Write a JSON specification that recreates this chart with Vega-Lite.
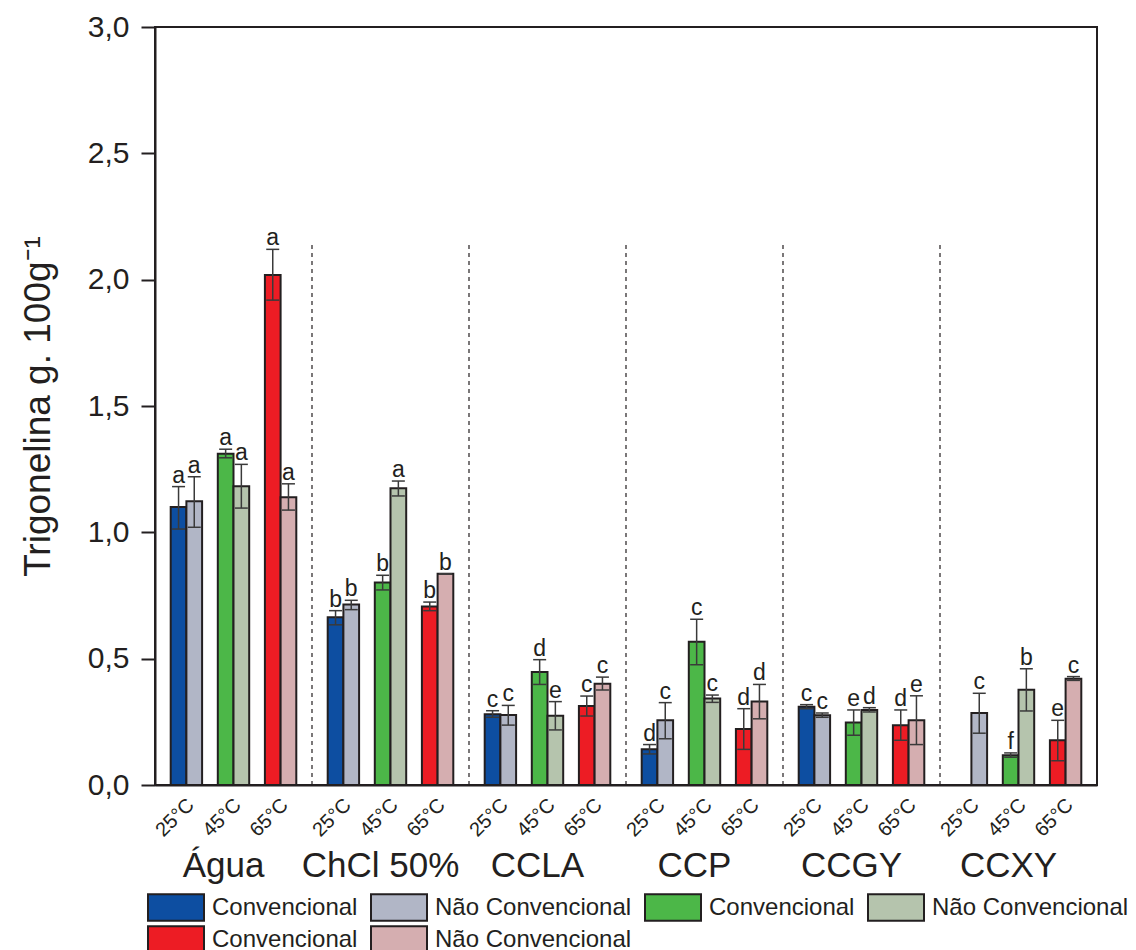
{
  "$schema": "https://vega.github.io/schema/vega-lite/v6.json",
  "width": 942,
  "height": 758,
  "autosize": {"type": "none"},
  "padding": {"left": 155, "top": 27, "right": 39, "bottom": 165},
  "background": "white",
  "config": {
    "font": "Liberation Sans",
    "view": {"stroke": "#231f20", "strokeWidth": 2},
    "axis": {"grid": false}
  },
  "datasets": {
    "bars": [
      {"solvent": "Água", "temp": "25°C", "type": "Convencional", "key": "25°C Convencional", "value": 1.10, "low": 1.013, "high": 1.181, "letter": "a"},
      {"solvent": "Água", "temp": "25°C", "type": "Não Convencional", "key": "25°C Não Convencional", "value": 1.123, "low": 1.02, "high": 1.22, "letter": "a"},
      {"solvent": "Água", "temp": "45°C", "type": "Convencional", "key": "45°C Convencional", "value": 1.311, "low": 1.295, "high": 1.329, "letter": "a"},
      {"solvent": "Água", "temp": "45°C", "type": "Não Convencional", "key": "45°C Não Convencional", "value": 1.182, "low": 1.096, "high": 1.269, "letter": "a"},
      {"solvent": "Água", "temp": "65°C", "type": "Convencional", "key": "65°C Convencional", "value": 2.018, "low": 1.919, "high": 2.12, "letter": "a"},
      {"solvent": "Água", "temp": "65°C", "type": "Não Convencional", "key": "65°C Não Convencional", "value": 1.139, "low": 1.088, "high": 1.192, "letter": "a"},
      {"solvent": "ChCl 50%", "temp": "25°C", "type": "Convencional", "key": "25°C Convencional", "value": 0.664, "low": 0.634, "high": 0.69, "letter": "b"},
      {"solvent": "ChCl 50%", "temp": "25°C", "type": "Não Convencional", "key": "25°C Não Convencional", "value": 0.714, "low": 0.694, "high": 0.731, "letter": "b"},
      {"solvent": "ChCl 50%", "temp": "45°C", "type": "Convencional", "key": "45°C Convencional", "value": 0.801, "low": 0.772, "high": 0.83, "letter": "b"},
      {"solvent": "ChCl 50%", "temp": "45°C", "type": "Não Convencional", "key": "45°C Não Convencional", "value": 1.174, "low": 1.144, "high": 1.203, "letter": "a"},
      {"solvent": "ChCl 50%", "temp": "65°C", "type": "Convencional", "key": "65°C Convencional", "value": 0.706, "low": 0.69, "high": 0.724, "letter": "b"},
      {"solvent": "ChCl 50%", "temp": "65°C", "type": "Não Convencional", "key": "65°C Não Convencional", "value": 0.836, "low": 0.836, "high": 0.836, "letter": "b"},
      {"solvent": "CCLA", "temp": "25°C", "type": "Convencional", "key": "25°C Convencional", "value": 0.28, "low": 0.268, "high": 0.294, "letter": "c"},
      {"solvent": "CCLA", "temp": "25°C", "type": "Não Convencional", "key": "25°C Não Convencional", "value": 0.277, "low": 0.237, "high": 0.315, "letter": "c"},
      {"solvent": "CCLA", "temp": "45°C", "type": "Convencional", "key": "45°C Convencional", "value": 0.447, "low": 0.398, "high": 0.496, "letter": "d"},
      {"solvent": "CCLA", "temp": "45°C", "type": "Não Convencional", "key": "45°C Não Convencional", "value": 0.274, "low": 0.218, "high": 0.33, "letter": "e"},
      {"solvent": "CCLA", "temp": "65°C", "type": "Convencional", "key": "65°C Convencional", "value": 0.313, "low": 0.273, "high": 0.352, "letter": "c"},
      {"solvent": "CCLA", "temp": "65°C", "type": "Não Convencional", "key": "65°C Não Convencional", "value": 0.401, "low": 0.376, "high": 0.427, "letter": "c"},
      {"solvent": "CCP", "temp": "25°C", "type": "Convencional", "key": "25°C Convencional", "value": 0.141, "low": 0.123, "high": 0.16, "letter": "d"},
      {"solvent": "CCP", "temp": "25°C", "type": "Não Convencional", "key": "25°C Não Convencional", "value": 0.256, "low": 0.183, "high": 0.326, "letter": "c"},
      {"solvent": "CCP", "temp": "45°C", "type": "Convencional", "key": "45°C Convencional", "value": 0.567, "low": 0.476, "high": 0.656, "letter": "c"},
      {"solvent": "CCP", "temp": "45°C", "type": "Não Convencional", "key": "45°C Não Convencional", "value": 0.342, "low": 0.327, "high": 0.356, "letter": "c"},
      {"solvent": "CCP", "temp": "65°C", "type": "Convencional", "key": "65°C Convencional", "value": 0.222, "low": 0.141, "high": 0.302, "letter": "d"},
      {"solvent": "CCP", "temp": "65°C", "type": "Não Convencional", "key": "65°C Não Convencional", "value": 0.33, "low": 0.262, "high": 0.398, "letter": "d"},
      {"solvent": "CCGY", "temp": "25°C", "type": "Convencional", "key": "25°C Convencional", "value": 0.31, "low": 0.302, "high": 0.318, "letter": "c"},
      {"solvent": "CCGY", "temp": "25°C", "type": "Não Convencional", "key": "25°C Não Convencional", "value": 0.276, "low": 0.268, "high": 0.285, "letter": "c"},
      {"solvent": "CCGY", "temp": "45°C", "type": "Convencional", "key": "45°C Convencional", "value": 0.247, "low": 0.197, "high": 0.297, "letter": "e"},
      {"solvent": "CCGY", "temp": "45°C", "type": "Não Convencional", "key": "45°C Não Convencional", "value": 0.297, "low": 0.289, "high": 0.306, "letter": "d"},
      {"solvent": "CCGY", "temp": "65°C", "type": "Convencional", "key": "65°C Convencional", "value": 0.236, "low": 0.177, "high": 0.297, "letter": "d"},
      {"solvent": "CCGY", "temp": "65°C", "type": "Não Convencional", "key": "65°C Não Convencional", "value": 0.256, "low": 0.16, "high": 0.353, "letter": "e"},
      {"solvent": "CCXY", "temp": "25°C", "type": "Não Convencional", "key": "25°C Não Convencional", "value": 0.285, "low": 0.205, "high": 0.363, "letter": "c"},
      {"solvent": "CCXY", "temp": "45°C", "type": "Convencional", "key": "45°C Convencional", "value": 0.118, "low": 0.11, "high": 0.127, "letter": "f"},
      {"solvent": "CCXY", "temp": "45°C", "type": "Não Convencional", "key": "45°C Não Convencional", "value": 0.377, "low": 0.293, "high": 0.46, "letter": "b"},
      {"solvent": "CCXY", "temp": "65°C", "type": "Convencional", "key": "65°C Convencional", "value": 0.177, "low": 0.096, "high": 0.256, "letter": "e"},
      {"solvent": "CCXY", "temp": "65°C", "type": "Não Convencional", "key": "65°C Não Convencional", "value": 0.421, "low": 0.414, "high": 0.429, "letter": "c"}
    ],
    "seps": [
      {"solvent": "ChCl 50%"},
      {"solvent": "CCLA"},
      {"solvent": "CCP"},
      {"solvent": "CCGY"},
      {"solvent": "CCXY"}
    ]
  },
  "layer": [
    {
      "data": {"name": "seps"},
      "mark": {"type": "rule", "strokeDash": [4, 4], "strokeWidth": 1.2, "color": "#231f20"},
      "encoding": {
        "x": {"field": "solvent", "type": "nominal", "bandPosition": 0, "title": null,
              "scale": {"domain": ["Água", "ChCl 50%", "CCLA", "CCP", "CCGY", "CCXY"], "paddingInner": 0, "paddingOuter": 0}},
        "y": {"datum": 0, "type": "quantitative"},
        "y2": {"datum": 2.15}
      }
    },
    {
      "data": {"name": "bars"},
      "mark": {"type": "bar", "stroke": "#231f20", "strokeWidth": 2},
      "encoding": {
        "x": {"field": "solvent", "type": "nominal", "title": null,
              "scale": {"domain": ["Água", "ChCl 50%", "CCLA", "CCP", "CCGY", "CCXY"], "paddingInner": 0, "paddingOuter": 0},
              "axis": {"title": null, "ticks": false, "labelAngle": 0, "labelAlign": "center", "labelBaseline": "top", "labelFontSize": 35, "labelPadding": 63, "labelOffset": -10,
                       "labelColor": "#231f20", "domainColor": "#231f20", "domainWidth": 2}},
        "xOffset": {"field": "key", "type": "nominal",
                    "scale": {"domain": ["25°C Convencional", "25°C Não Convencional", "gap1", "45°C Convencional", "45°C Não Convencional", "gap2", "65°C Convencional", "65°C Não Convencional"], "paddingInner": 0, "paddingOuter": 1}},
        "y": {"field": "value", "type": "quantitative",
              "scale": {"domain": [0, 3], "nice": false},
              "axis": {"title": "Trigonelina g. 100g⁻¹", "titleFontSize": 37, "titleFontWeight": "normal", "titleColor": "#231f20", "titlePadding": 30,
                       "values": [0, 0.5, 1, 1.5, 2, 2.5, 3], "labelExpr": "replace(format(datum.value, '.1f'), '.', ',')",
                       "labelFontSize": 30, "labelColor": "#231f20", "labelPadding": 12, "labelFlush": false, "labelOverlap": false,
                       "tickSize": 14, "tickWidth": 2, "tickColor": "#231f20", "domainColor": "#231f20", "domainWidth": 2}},
        "color": {"field": "key", "type": "nominal",
                  "scale": {"domain": ["25°C Convencional", "25°C Não Convencional", "45°C Convencional", "45°C Não Convencional", "65°C Convencional", "65°C Não Convencional"],
                            "range": ["#0d4ea1", "#b1b6c6", "#4cb748", "#b5c4ad", "#ed1c24", "#d5aeb0"]},
                  "legend": {"orient": "none", "legendX": -8, "legendY": 866, "direction": "horizontal", "columns": 4, "title": null,
                             "symbolType": "M-1,-0.47H1V0.47H-1Z", "symbolSize": 3136, "symbolStrokeColor": "#231f20", "symbolStrokeWidth": 2, "symbolOpacity": 1,
                             "labelFontSize": 24, "labelColor": "#231f20", "labelOffset": 7, "columnPadding": 12, "rowPadding": 3, "clipHeight": 29,
                             "labelExpr": "slice(datum.label, 5)", "padding": 0, "labelLimit": 0}}
      }
    },
    {
      "data": {"name": "bars"},
      "mark": {"type": "rule", "strokeWidth": 1.5, "color": "#3a3a3a"},
      "encoding": {
        "x": {"field": "solvent", "type": "nominal", "title": null},
        "xOffset": {"field": "key", "type": "nominal"},
        "y": {"field": "low", "type": "quantitative"},
        "y2": {"field": "high"}
      }
    },
    {
      "data": {"name": "bars"},
      "mark": {"type": "tick", "size": 13, "thickness": 1.5, "color": "#3a3a3a", "opacity": 1},
      "encoding": {
        "x": {"field": "solvent", "type": "nominal", "title": null},
        "xOffset": {"field": "key", "type": "nominal"},
        "y": {"field": "low", "type": "quantitative"}
      }
    },
    {
      "data": {"name": "bars"},
      "mark": {"type": "tick", "size": 13, "thickness": 1.5, "color": "#3a3a3a", "opacity": 1},
      "encoding": {
        "x": {"field": "solvent", "type": "nominal", "title": null},
        "xOffset": {"field": "key", "type": "nominal"},
        "y": {"field": "high", "type": "quantitative"}
      }
    },
    {
      "data": {"name": "bars"},
      "mark": {"type": "text", "fontSize": 23, "color": "#231f20", "align": "center", "baseline": "alphabetic", "dy": -4},
      "encoding": {
        "x": {"field": "solvent", "type": "nominal", "title": null},
        "xOffset": {"field": "key", "type": "nominal"},
        "y": {"field": "high", "type": "quantitative"},
        "text": {"field": "letter"}
      }
    },
    {
      "data": {"name": "bars"},
      "transform": [{"filter": "datum.type == 'Não Convencional'"}],
      "mark": {"type": "text", "fontSize": 20, "color": "#231f20", "align": "right", "baseline": "middle", "angle": 315, "dx": -14.4, "dy": 9.6},
      "encoding": {
        "x": {"field": "solvent", "type": "nominal", "title": null},
        "xOffset": {"field": "key", "type": "nominal"},
        "y": {"datum": 0, "type": "quantitative"},
        "text": {"field": "temp"}
      }
    }
  ]
}
